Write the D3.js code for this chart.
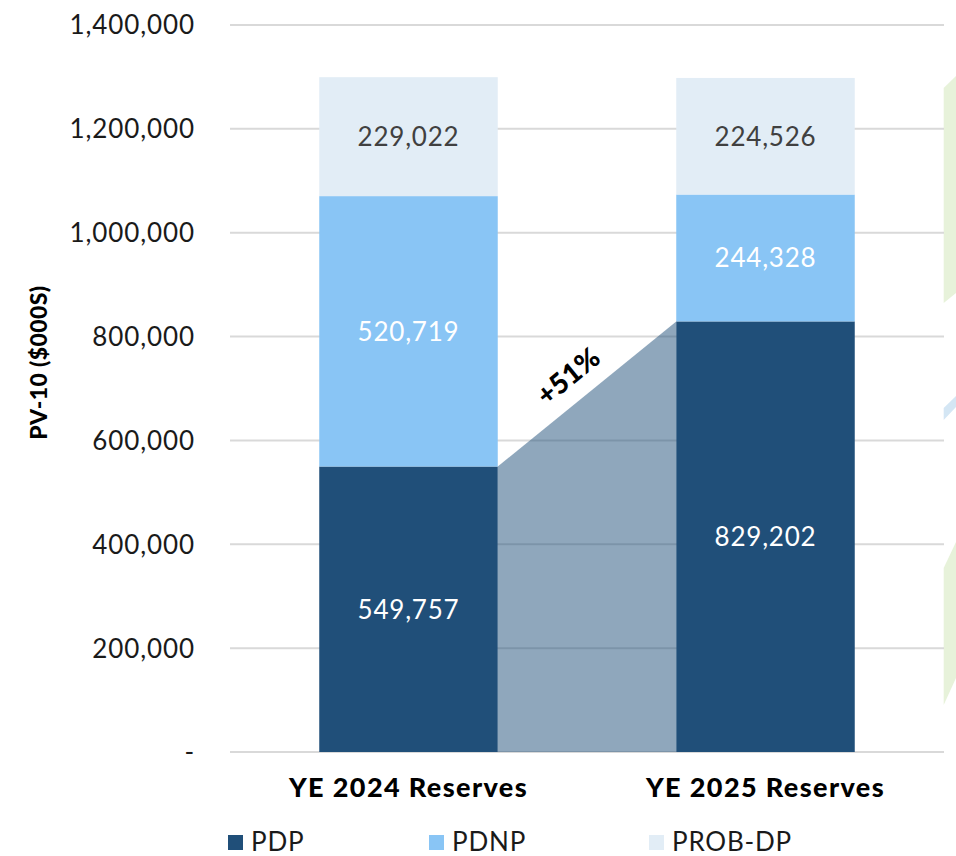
<!DOCTYPE html>
<html><head><meta charset="utf-8">
<script src="https://cdn.jsdelivr.net/npm/d3@7"></script>
<style>
html,body{margin:0;padding:0;background:#fff;}
svg{display:block;font-family:Lato,"Open Sans",sans-serif;}
</style></head>
<body>
<svg id="chart" width="956" height="856"></svg>
<script>
const categories = ["YE 2024 Reserves", "YE 2025 Reserves"];
const seriesNames = ["PDP", "PDNP", "PROB-DP"];
const pdp = [549757, 829202];
const pdnp = [520719, 244328];
const probdp = [229022, 224526];
const yTicks = [0, 200000, 400000, 600000, 800000, 1000000, 1200000, 1400000];
const growthLabel = "+51%";
const yTitle = "PV-10 ($000S)";

(function () {
const colors = {"PDP": "#204f79", "PDNP": "#89c5f5", "PROB-DP": "#e2edf6"};
const labelColors = {"PDP": "#ffffff", "PDNP": "#ffffff", "PROB-DP": "#404040"};

const svg = d3.select("#chart");
const mLeft = 230, mRight = 944, mTop = 25, mBottom = 752;

const x = d3.scaleBand().domain(categories).range([mLeft, mRight]).paddingInner(0.5).paddingOuter(0.25);
const y = d3.scaleLinear().domain([0, 1400000]).range([mBottom, mTop]);

// decorative partial shapes at right edge
const deco = svg.append("g");
deco.append("path").attr("d", "M943.7,88L956,76L956,293L943.7,303Z").attr("fill", "#e7f2da");
deco.append("path").attr("d", "M943.7,408L956,396L956,407L943.7,420Z").attr("fill", "#d4e6f4");
deco.append("path").attr("d", "M943.7,568L956,542L956,678L943.7,705Z").attr("fill", "#e7f2da");

// gridlines
svg.append("g").selectAll("line").data(yTicks).join("line")
  .attr("x1", mLeft).attr("x2", mRight)
  .attr("y1", d => y(d)).attr("y2", d => y(d))
  .attr("stroke", "#d9d9d9").attr("stroke-width", 2);

// y tick labels
const fmt = d3.format(",");
svg.append("g").selectAll("text").data(yTicks).join("text")
  .attr("x", 195).attr("y", d => y(d)).attr("dy", "0.36em")
  .attr("text-anchor", "end").attr("font-size", 26).attr("letter-spacing", 0.9)
  .attr("fill", "#1a1a1a")
  .text(d => d === 0 ? "-" : fmt(d));

// y axis title
svg.append("text")
  .attr("transform", `translate(47,${(mTop + mBottom) / 2 - 26}) rotate(-90)`)
  .attr("text-anchor", "middle").attr("font-size", 23).attr("font-weight", 900)
  .attr("letter-spacing", 0.4)
  .attr("fill", "#000").text(yTitle);

// growth connector area (semi-transparent)
const x0 = x(categories[0]) + x.bandwidth();
const x1 = x(categories[1]);
const area = d3.area().x(d => d[0]).y0(y(0)).y1(d => d[1]);
svg.append("path")
  .datum([[x0, y(pdp[0])], [x1, y(pdp[1])]])
  .attr("d", area).attr("fill", "#204f79").attr("fill-opacity", 0.5);

// stacked bars
const rows = categories.map((c, i) => ({cat: c, "PDP": pdp[i], "PDNP": pdnp[i], "PROB-DP": probdp[i]}));
const stack = d3.stack().keys(seriesNames)(rows);
const gBars = svg.append("g");
stack.forEach(layer => {
  const key = layer.key;
  gBars.selectAll(null).data(layer).join("rect")
    .attr("x", d => x(d.data.cat)).attr("width", x.bandwidth())
    .attr("y", d => y(d[1])).attr("height", d => y(d[0]) - y(d[1]))
    .attr("fill", colors[key]);
  gBars.selectAll(null).data(layer).join("text")
    .attr("x", d => x(d.data.cat) + x.bandwidth() / 2)
    .attr("y", d => (y(d[0]) + y(d[1])) / 2).attr("dy", "0.36em")
    .attr("text-anchor", "middle").attr("font-size", 26).attr("letter-spacing", 0.8)
    .attr("fill", labelColors[key])
    .text(d => fmt(d.data[key]));
});

// growth label
const angle = Math.atan2(y(pdp[1]) - y(pdp[0]), x1 - x0) * 180 / Math.PI;
svg.append("text")
  .attr("transform", `translate(${(x0 + x1) / 2 - 19},${(y(pdp[0]) + y(pdp[1])) / 2 - 18}) rotate(${angle})`)
  .attr("text-anchor", "middle").attr("dy", "0.36em")
  .attr("font-size", 28).attr("font-weight", 900).attr("fill", "#000")
  .text(growthLabel);

// category labels
svg.append("g").selectAll("text").data(categories).join("text")
  .attr("x", d => x(d) + x.bandwidth() / 2).attr("y", 797)
  .attr("text-anchor", "middle").attr("font-size", 27).attr("font-weight", 900)
  .attr("letter-spacing", 1.4)
  .attr("fill", "#000").text(d => d);

// legend
const legendX = [228, 429, 649];
const lg = svg.append("g");
seriesNames.forEach((s, i) => {
  lg.append("rect").attr("x", legendX[i]).attr("y", 835).attr("width", 15).attr("height", 15).attr("fill", colors[s]);
  lg.append("text").attr("x", legendX[i] + 23).attr("y", 851)
    .attr("font-size", 26).attr("letter-spacing", 0.8).attr("fill", "#1a1a1a").text(s);
});
})();
</script>
</body></html>
